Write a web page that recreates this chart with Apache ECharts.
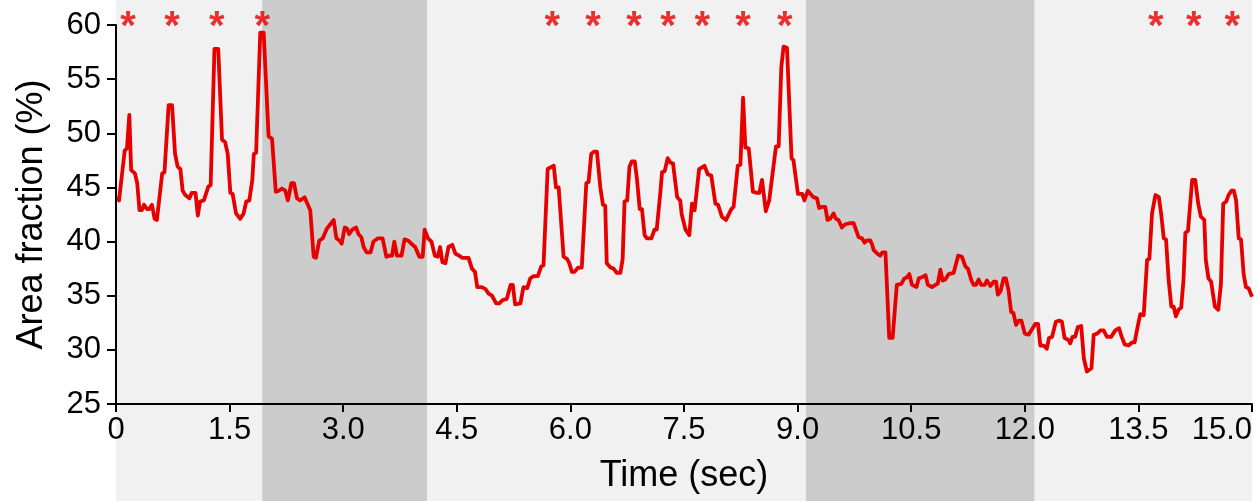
<!DOCTYPE html>
<html>
<head>
<meta charset="utf-8">
<script src="https://cdn.jsdelivr.net/npm/echarts@6/dist/echarts.min.js"></script>
<style>
    html, body { margin: 0; padding: 0; background: #fff; }
    #basic { width: 1258px; height: 501px; }
</style>
</head>
<body>
<div id="basic"></div>
<script>
// 时间 (sec) 与面积分数 (%)
var timeSec = [
    0.01, 0.04, 0.115, 0.145, 0.176, 0.2, 0.25, 0.28, 0.31, 0.34, 0.37, 0.41, 0.44, 0.475, 0.51, 0.54,
    0.61, 0.64, 0.695, 0.74, 0.78, 0.815, 0.85, 0.88, 0.915, 0.97, 1.0, 1.05, 1.08, 1.11, 1.16, 1.22,
    1.25, 1.3, 1.35, 1.4, 1.44, 1.475, 1.51, 1.54, 1.585, 1.64, 1.685, 1.72, 1.76, 1.8, 1.82, 1.85,
    1.905, 1.95, 2.015, 2.06, 2.11, 2.15, 2.19, 2.235, 2.27, 2.315, 2.35, 2.39, 2.43,
    2.49, 2.52, 2.565, 2.61, 2.64, 2.685, 2.73, 2.785, 2.83, 2.875, 2.91, 2.95, 2.98, 3.02, 3.05, 3.08,
    3.12, 3.17, 3.2, 3.24, 3.27, 3.31, 3.36, 3.4, 3.46, 3.52, 3.57, 3.61, 3.645, 3.675, 3.71, 3.77,
    3.81, 3.855, 3.9, 3.95, 4.005, 4.05, 4.075, 4.12, 4.165, 4.21, 4.25, 4.28, 4.31, 4.35, 4.39, 4.44,
    4.48, 4.53, 4.57, 4.61, 4.655, 4.7, 4.74, 4.77, 4.83, 4.88, 4.92, 4.965,
    5.02, 5.06, 5.105, 5.16, 5.21, 5.24, 5.27, 5.34, 5.38, 5.43, 5.47, 5.515, 5.57, 5.615, 5.645, 5.7,
    5.75, 5.78, 5.81, 5.845, 5.91, 5.955, 5.985, 6.02, 6.055, 6.1, 6.15, 6.21, 6.24, 6.275, 6.31, 6.35,
    6.395, 6.43, 6.46, 6.48, 6.53, 6.57, 6.615, 6.66, 6.69, 6.715, 6.75, 6.78, 6.81, 6.85, 6.88, 6.915,
    6.945, 6.98, 7.01, 7.07, 7.11, 7.14, 7.19, 7.21, 7.245, 7.285, 7.32, 7.355, 7.41, 7.45, 7.47,
    7.52, 7.57, 7.605, 7.64, 7.7, 7.77, 7.815, 7.86, 7.915, 7.95, 8.0, 8.055, 8.08, 8.125, 8.155, 8.21,
    8.245, 8.28, 8.31, 8.355, 8.41, 8.465, 8.495, 8.53, 8.55, 8.58, 8.625, 8.65, 8.715, 8.75, 8.785, 8.815,
    8.86, 8.92, 8.945, 9.005, 9.06, 9.09, 9.135, 9.17, 9.21, 9.255, 9.285, 9.32, 9.365, 9.395, 9.43, 9.475,
    9.505, 9.54, 9.585, 9.63, 9.695, 9.74, 9.77, 9.805, 9.85, 9.885, 9.915, 9.96, 9.985,
    10.005, 10.05, 10.09, 10.12, 10.16, 10.21, 10.255, 10.31, 10.37, 10.41, 10.445, 10.475, 10.51, 10.57,
    10.6, 10.64, 10.69, 10.72, 10.775, 10.82, 10.85, 10.885, 10.915, 10.95, 10.995, 11.06, 11.12, 11.17,
    11.215, 11.25, 11.295, 11.325, 11.355, 11.39, 11.425, 11.47, 11.5, 11.545, 11.59, 11.62, 11.645, 11.68,
    11.72, 11.75, 11.785, 11.82, 11.85, 11.885, 11.92, 11.955, 12.0, 12.05, 12.095, 12.14, 12.175, 12.205,
    12.25, 12.29, 12.32, 12.36, 12.41, 12.455, 12.49,
    12.525, 12.58, 12.6, 12.63, 12.665, 12.7, 12.745, 12.78, 12.82, 12.88, 12.91, 12.955, 13.0, 13.04,
    13.085, 13.14, 13.195, 13.245, 13.28, 13.32, 13.37, 13.42, 13.45, 13.495, 13.525, 13.57, 13.615, 13.645,
    13.68, 13.725, 13.77, 13.8, 13.835, 13.865, 13.9, 13.935, 13.965, 13.995, 14.03, 14.065, 14.095, 14.12,
    14.155, 14.21, 14.25, 14.29, 14.325, 14.37, 14.39, 14.425, 14.46, 14.51, 14.555, 14.59, 14.62, 14.66,
    14.69, 14.73, 14.76, 14.79, 14.825, 14.855, 14.89, 14.92, 14.955, 15.0
]
var areaPct = [
    44.1, 43.8, 48.4, 48.6, 51.7, 46.6, 46.3, 45.4, 42.9, 42.9, 43.4, 43.0, 43.0, 43.4, 42.1, 42.0,
    46.3, 46.4, 52.6, 52.6, 48.1, 46.9, 46.7, 44.7, 44.3, 44.0, 44.5, 44.5, 42.4, 43.7, 43.8, 45.1,
    45.2, 57.8, 57.8, 49.4, 49.2, 48.1, 44.5, 44.4, 42.6, 42.1, 42.6, 43.7, 43.8, 45.7, 48.1, 48.2,
    59.3, 59.3, 49.7, 49.5, 44.6, 44.7, 44.9, 44.7, 43.8, 45.4, 45.4, 44.0, 43.8,
    44.1, 43.6, 42.9, 38.6, 38.5, 40.1, 40.3, 41.2, 41.6, 42.0, 40.3, 40.1, 39.8, 41.3, 41.2, 40.7,
    41.1, 41.3, 40.7, 40.4, 39.5, 39.0, 39.0, 40.0, 40.3, 40.3, 38.6, 38.7, 38.7, 40.0, 38.7, 38.7,
    40.2, 40.1, 39.8, 39.5, 38.6, 38.6, 41.1, 40.3, 40.0, 38.7, 38.6, 39.5, 38.1, 38.0, 39.5, 39.7,
    38.9, 38.7, 38.5, 38.5, 38.5, 37.5, 37.2, 35.8, 35.8, 35.6, 35.2, 35.0,
    34.3, 34.3, 34.6, 34.7, 36.0, 36.0, 34.2, 34.3, 35.8, 35.7, 36.6, 36.8, 36.8, 37.7, 37.8, 46.7,
    46.9, 47.0, 45.0, 45.0, 38.6, 38.4, 38.0, 37.2, 37.2, 37.6, 37.6, 45.4, 45.5, 48.1, 48.3, 48.3,
    45.0, 43.4, 43.3, 38.0, 37.6, 37.5, 37.1, 37.1, 38.4, 43.7, 43.8, 46.9, 47.4, 47.4, 45.7, 43.0,
    43.0, 40.6, 40.3, 40.3, 41.1, 41.1, 44.7, 46.4, 46.5, 47.7, 47.3, 47.2, 44.1, 43.8, 42.5,
    41.1, 40.6, 43.5, 42.9, 46.7, 47.0, 46.2, 46.1, 43.5, 43.4, 42.3, 42.0, 42.0, 43.0, 43.2, 47.0,
    47.1, 53.3, 48.7, 48.6, 44.6, 44.5, 44.5, 45.7, 45.7, 42.8, 43.8, 43.9, 48.8, 48.8, 56.1, 58.0,
    57.9, 47.7, 47.5, 44.4, 44.4, 43.8, 44.7, 44.4, 44.1, 44.0, 43.1, 43.2, 43.2, 42.0, 42.1, 42.6,
    42.1, 42.0, 41.3, 41.6, 41.7, 41.7, 41.1, 40.4, 40.3, 39.9, 40.1, 40.1, 39.7,
    39.2, 38.9, 38.7, 39.0, 39.0, 31.1, 31.1, 36.0, 36.1, 36.6, 36.7, 37.0, 36.0, 35.8,
    36.6, 36.7, 36.9, 36.0, 35.8, 36.0, 36.1, 37.4, 36.4, 36.5, 37.0, 37.1, 38.7, 38.6,
    37.7, 37.5, 36.4, 36.0, 36.0, 36.5, 36.0, 36.0, 36.4, 35.9, 36.3, 36.3, 35.1, 35.4,
    36.6, 36.6, 35.5, 33.5, 33.4, 32.3, 32.7, 32.7, 31.5, 31.4, 31.9, 32.4, 32.4, 30.4,
    30.4, 30.1, 31.1, 31.2, 32.6, 32.7, 32.6,
    31.1, 30.9, 30.6, 31.2, 31.2, 32.1, 32.2, 29.2, 28.0, 28.3, 31.4, 31.5, 31.8, 31.8,
    31.2, 31.2, 31.8, 32.0, 31.2, 30.5, 30.4, 30.7, 30.7, 32.3, 33.3, 33.2, 38.3, 38.4,
    42.6, 44.3, 44.1, 42.6, 40.3, 40.2, 36.4, 34.0, 34.0, 33.1, 33.7, 33.9, 36.4, 40.8,
    41.0, 45.7, 45.7, 43.5, 42.3, 42.0, 38.3, 36.6, 36.3, 34.0, 33.7, 36.1, 43.5, 43.7,
    44.3, 44.7, 44.7, 43.8, 40.3, 40.2, 37.0, 35.8, 35.7, 34.9
]
// 星号位置 (sec)
var starTimes = [0.16, 0.74, 1.33, 1.93, 5.76, 6.3, 6.84, 7.29, 7.74, 8.28, 8.83, 13.73, 14.23, 14.74]
// 背景分段 (sec)
var bandStart = [0, 1.93, 4.11, 9.11, 12.13]
var bandEnd = [1.93, 4.11, 9.11, 12.13, 15]

var FONT = "'Liberation Sans', Arial, sans-serif"
var RED = '#e60000'

var bands = bandStart.map(function (s, i) {
    return [
        { xAxis: s, itemStyle: { color: i % 2 ? '#cccccc' : '#f1f1f1' } },
        { xAxis: bandEnd[i] }
    ]
})

var option = {
    animation: false,
    textStyle: { fontFamily: FONT },
    grid: [
        { left: 116, width: 1136, top: 0, bottom: 0 },
        { left: 116, width: 1136, top: 25, height: 379 }
    ],
    xAxis: [
        { gridIndex: 0, type: 'value', min: 0, max: 15, show: false },
        {
            gridIndex: 1, type: 'value', min: 0, max: 15, interval: 1.5, z: 5,
            name: 'Time (sec)', nameLocation: 'middle', nameGap: 54,
            nameTextStyle: { fontSize: 36, color: '#000', fontFamily: FONT },
            axisLine: { lineStyle: { color: '#000', width: 2 } },
            axisTick: { length: 8, lineStyle: { color: '#000', width: 2 } },
            splitLine: { show: false },
            axisLabel: {
                fontSize: 31, color: '#000', margin: 11, alignMaxLabel: 'right',
                formatter: function (v) { return v === 0 ? '0' : v.toFixed(1) }
            }
        }
    ],
    yAxis: [
        { gridIndex: 0, type: 'value', min: 0, max: 1, show: false },
        {
            gridIndex: 1, type: 'value', min: 25, max: 60, interval: 5, z: 5,
            name: 'Area fraction (%)', nameLocation: 'middle', nameGap: 66,
            nameTextStyle: { fontSize: 36, color: '#000', fontFamily: FONT },
            axisLine: { show: true, lineStyle: { color: '#000', width: 2 } },
            axisTick: { show: true, length: 9, lineStyle: { color: '#000', width: 2 } },
            splitLine: { show: false },
            axisLabel: { fontSize: 31, color: '#000', margin: 15 }
        }
    ],
    series: [
        {
            // 背景灰色分段
            type: 'line', xAxisIndex: 0, yAxisIndex: 0, silent: true,
            data: [], symbol: 'none',
            markArea: { silent: true, z: -1, data: bands }
        },
        {
            type: 'line', xAxisIndex: 1, yAxisIndex: 1,
            data: timeSec.map(function (t, i) { return [t, areaPct[i]] }),
            symbol: 'none',
            lineStyle: { color: RED, width: 3.8, join: 'round' }
        },
        {
            // 星号
            type: 'scatter', xAxisIndex: 1, yAxisIndex: 1, clip: false, silent: true, z: 6,
            data: starTimes.map(function (t) { return [t, 60] }),
            symbolSize: 1, itemStyle: { color: 'rgba(0,0,0,0)' },
            label: {
                show: true, position: 'inside', formatter: '*', offset: [0, 3],
                color: RED, fontSize: 40, fontWeight: 'bold', fontFamily: FONT
            }
        }
    ]
}

var myChart = echarts.init(document.getElementById('basic'), null, { renderer: 'canvas' })
myChart.setOption(option)
</script>
</body>
</html>
